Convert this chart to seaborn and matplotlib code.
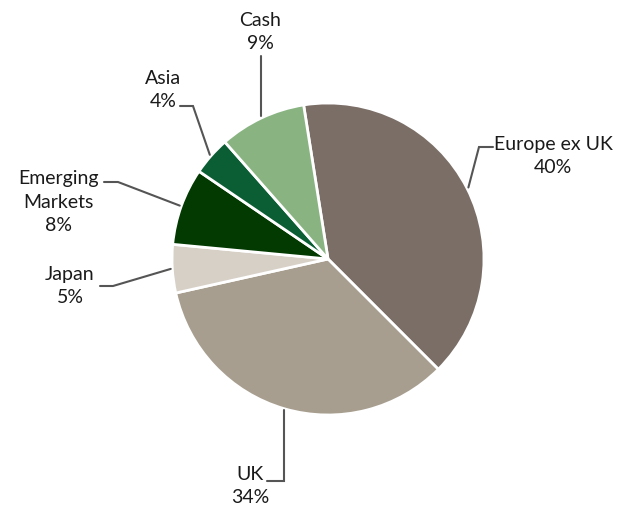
"""Regional allocation pie chart with elbow leader labels."""
import numpy as np
import matplotlib
matplotlib.use("Agg")
import matplotlib.pyplot as plt
import seaborn as sns

sns.set_theme(style="white")
plt.rcParams["font.family"] = ["Lato", "DejaVu Sans"]

REGIONS = ["Europe ex UK", "UK", "Japan", "Emerging\nMarkets", "Asia", "Cash"]
WEIGHTS = [40, 34, 5, 8, 4, 9]
COLORS = ["#7b6e67", "#a79e8f", "#d7d0c7", "#023a02", "#0b5e34", "#89b482"]

W, H = 628, 506
CX, CY, R = 328, H - 260, 156

# label centre, end of leader near the text, elbow (all in pixels from top-left)
LAYOUT = {
    "Europe ex UK": ((553, 156), (493, 148), (479, 148)),
    "UK": ((250, 486), (267, 482), None),
    "Japan": ((70, 286), (100, 287), (113, 287)),
    "Emerging\nMarkets": ((58, 202), (104, 183), (118, 183)),
    "Asia": ((163, 90), (180, 107), (193, 107)),
    "Cash": ((260, 32), None, None),
}

fig = plt.figure(figsize=(W / 100, H / 100), dpi=100)
ax = fig.add_axes([0, 0, 1, 1])

wedges, _ = ax.pie(WEIGHTS, colors=COLORS, startangle=99, counterclock=False,
                   center=(CX, CY), radius=R, frame=True,
                   wedgeprops=dict(edgecolor="white", linewidth=2))
ax.set_xlim(0, W); ax.set_ylim(0, H); ax.set_aspect("equal"); ax.axis("off")

for w, name, val in zip(wedges, REGIONS, WEIGHTS):
    mid = np.deg2rad((w.theta1 + w.theta2) / 2)
    ax_, ay_ = CX + R * 1.01 * np.cos(mid), CY + R * 1.01 * np.sin(mid)
    (tx, ty), end, elbow = LAYOUT[name]
    if name == "UK":
        pts = [(end[0], H - end[1]), (ax_, H - end[1]), (ax_, ay_)]
    elif name == "Cash":
        pts = [(ax_, H - 57), (ax_, ay_)]
    else:
        pts = [(end[0], H - end[1]), (elbow[0], H - elbow[1]), (ax_, ay_)]
    xs, ys = zip(*pts)
    ax.plot(xs, ys, color="#555555", lw=1.5, solid_joinstyle="miter")
    ax.text(tx, H - ty, f"{name}\n{val}%", ha="center", va="center",
            fontsize=14, color="#1a1a1a", linespacing=1.45)

fig.savefig("out.png", dpi=100, facecolor="white")
